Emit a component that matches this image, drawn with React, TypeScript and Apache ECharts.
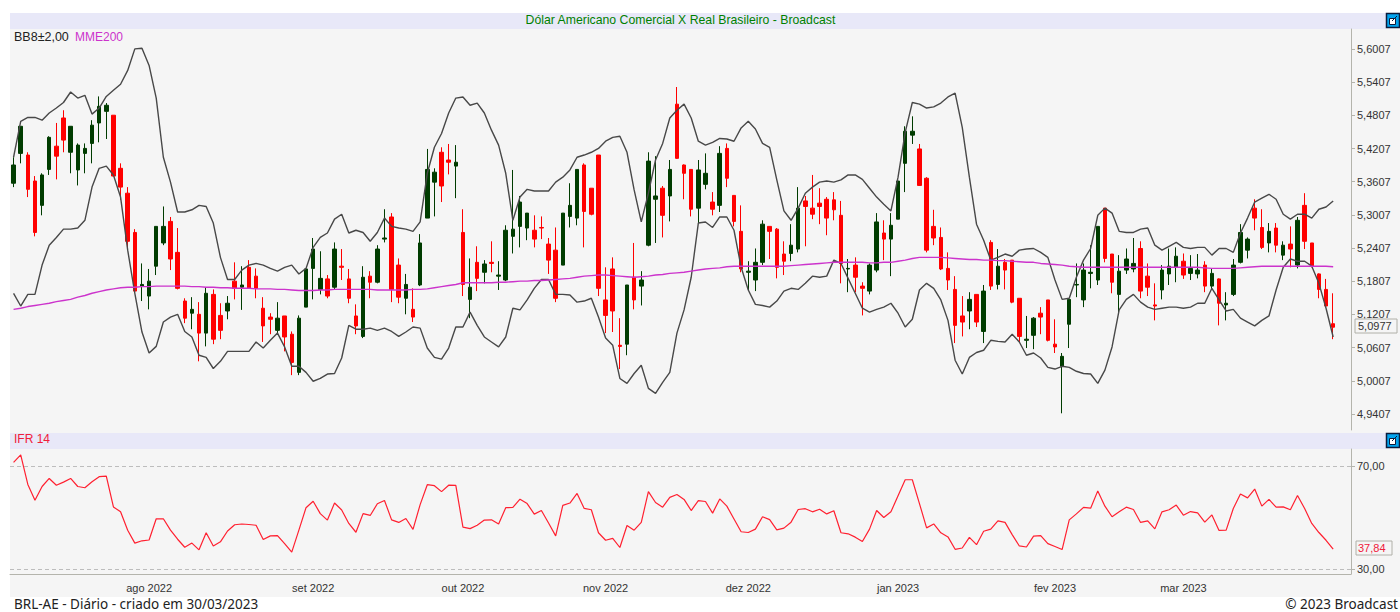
import React, { useEffect, useRef } from "react";
import * as echarts from "echarts";

const opens = [
  5.358,5.412,5.409,5.362,5.318,5.383,5.425,5.476,5.414,5.382,
  5.412,5.430,5.467,5.488,5.481,5.385,5.340,5.269,5.172,5.154,
  5.208,5.250,5.289,5.233,5.145,5.123,5.121,5.087,5.157,5.119,
  5.127,5.181,5.170,5.206,5.190,5.132,5.116,5.092,5.118,5.085,
  5.016,5.134,5.204,5.166,5.185,5.170,5.208,5.185,5.118,5.081,
  5.190,5.179,5.257,5.297,5.210,5.150,5.130,5.174,5.295,5.360,
  5.414,5.400,5.389,5.269,5.148,5.215,5.197,5.215,5.190,5.183,
  5.262,5.280,5.277,5.273,5.278,5.248,5.237,5.210,5.298,5.295,
  5.391,5.349,5.409,5.147,5.203,5.065,5.067,5.188,5.172,5.246,
  5.329,5.349,5.335,5.501,5.391,5.383,5.313,5.356,5.324,5.318,
  5.421,5.336,5.271,5.197,5.183,5.215,5.280,5.275,5.230,5.231,
  5.239,5.326,5.313,5.322,5.329,5.328,5.300,5.203,5.210,5.172,
  5.163,5.201,5.268,5.257,5.293,5.394,5.445,5.420,5.367,5.280,
  5.260,5.204,5.166,5.118,5.127,5.157,5.090,5.251,5.175,5.215,
  5.219,5.150,5.074,5.083,5.123,5.147,5.067,5.027,5.103,5.174,
  5.147,5.195,5.183,5.313,5.230,5.157,5.201,5.203,5.240,5.190,
  5.138,5.165,5.194,5.206,5.217,5.195,5.194,5.210,5.172,5.185,
  5.138,5.157,5.215,5.237,5.313,5.278,5.250,5.277,5.228,5.248,
  5.210,5.318,5.250,5.194,5.166,5.104,
];
const closes = [
  5.391,5.461,5.347,5.269,5.373,5.441,5.407,5.436,5.461,5.427,
  5.421,5.463,5.497,5.499,5.371,5.351,5.253,5.163,5.175,5.181,
  5.280,5.280,5.221,5.168,5.114,5.130,5.087,5.159,5.076,5.092,
  5.141,5.168,5.174,5.168,5.168,5.100,5.112,5.114,5.080,5.034,
  5.114,5.203,5.239,5.186,5.154,5.239,5.206,5.150,5.100,5.188,
  5.179,5.239,5.259,5.166,5.152,5.175,5.116,5.250,5.383,5.378,
  5.353,5.396,5.396,5.175,5.170,5.186,5.212,5.213,5.192,5.273,
  5.275,5.324,5.304,5.257,5.277,5.219,5.150,5.304,5.318,5.383,
  5.307,5.302,5.168,5.119,5.127,5.063,5.174,5.147,5.183,5.398,
  5.335,5.300,5.383,5.403,5.376,5.311,5.382,5.376,5.311,5.412,
  5.367,5.289,5.203,5.199,5.215,5.284,5.271,5.206,5.217,5.246,
  5.313,5.316,5.302,5.316,5.295,5.310,5.213,5.204,5.188,5.168,
  5.210,5.288,5.257,5.282,5.362,5.452,5.452,5.354,5.237,5.259,
  5.203,5.183,5.101,5.107,5.148,5.107,5.163,5.172,5.208,5.201,
  5.143,5.081,5.076,5.114,5.116,5.074,5.062,5.045,5.148,5.175,
  5.201,5.197,5.280,5.222,5.179,5.199,5.221,5.213,5.163,5.170,
  5.136,5.201,5.208,5.226,5.192,5.204,5.201,5.172,5.195,5.141,
  5.141,5.210,5.269,5.257,5.295,5.242,5.271,5.246,5.246,5.239,
  5.291,5.253,5.208,5.166,5.136,5.0977,
];
const lows = [
  5.351,5.394,5.333,5.262,5.300,5.373,5.365,5.414,5.376,5.354,
  5.376,5.394,5.432,5.438,5.371,5.328,5.242,5.163,5.145,5.130,
  5.192,5.246,5.201,5.166,5.105,5.094,5.036,5.063,5.067,5.076,
  5.112,5.148,5.129,5.168,5.150,5.071,5.085,5.087,5.054,5.011,
  5.011,5.134,5.148,5.157,5.150,5.166,5.183,5.141,5.085,5.078,
  5.150,5.177,5.251,5.143,5.141,5.121,5.107,5.172,5.295,5.298,
  5.324,5.374,5.331,5.154,5.114,5.163,5.177,5.197,5.165,5.181,
  5.231,5.242,5.255,5.242,5.257,5.194,5.143,5.210,5.278,5.282,
  5.242,5.300,5.154,5.087,5.089,5.022,5.047,5.130,5.137,5.244,
  5.250,5.260,5.289,5.402,5.329,5.298,5.286,5.347,5.300,5.306,
  5.351,5.280,5.197,5.165,5.163,5.210,5.221,5.186,5.192,5.217,
  5.233,5.244,5.293,5.284,5.264,5.291,5.177,5.161,5.161,5.119,
  5.157,5.197,5.219,5.190,5.293,5.342,5.429,5.353,5.233,5.246,
  5.201,5.165,5.069,5.081,5.094,5.098,5.069,5.165,5.166,5.166,
  5.141,5.071,5.060,5.058,5.085,5.072,5.051,4.942,5.060,5.152,
  5.134,5.168,5.174,5.215,5.159,5.125,5.194,5.197,5.150,5.154,
  5.110,5.148,5.174,5.179,5.185,5.183,5.186,5.161,5.166,5.101,
  5.110,5.154,5.213,5.222,5.273,5.239,5.233,5.233,5.219,5.206,
  5.204,5.239,5.206,5.150,5.134,5.076,
];
const highs = [
  5.405,5.461,5.414,5.371,5.376,5.443,5.467,5.490,5.461,5.430,
  5.430,5.472,5.515,5.503,5.481,5.394,5.351,5.275,5.213,5.203,
  5.280,5.316,5.297,5.277,5.150,5.152,5.143,5.170,5.166,5.141,
  5.154,5.215,5.208,5.219,5.204,5.152,5.123,5.143,5.118,5.090,
  5.119,5.203,5.259,5.235,5.192,5.251,5.239,5.203,5.139,5.208,
  5.199,5.246,5.311,5.304,5.222,5.194,5.168,5.266,5.420,5.385,
  5.423,5.429,5.427,5.311,5.222,5.244,5.219,5.253,5.217,5.282,
  5.382,5.335,5.304,5.300,5.298,5.259,5.278,5.304,5.358,5.383,
  5.394,5.349,5.409,5.206,5.224,5.114,5.174,5.250,5.199,5.414,
  5.407,5.353,5.400,5.532,5.392,5.383,5.400,5.412,5.342,5.425,
  5.430,5.336,5.318,5.217,5.240,5.291,5.280,5.277,5.253,5.284,
  5.351,5.335,5.373,5.349,5.333,5.342,5.326,5.221,5.224,5.179,
  5.213,5.304,5.291,5.304,5.362,5.461,5.479,5.429,5.369,5.310,
  5.278,5.233,5.190,5.154,5.161,5.157,5.174,5.255,5.239,5.221,
  5.219,5.150,5.118,5.116,5.134,5.147,5.112,5.051,5.148,5.213,
  5.213,5.246,5.280,5.313,5.230,5.228,5.240,5.259,5.253,5.213,
  5.177,5.210,5.240,5.242,5.231,5.228,5.230,5.217,5.204,5.186,
  5.161,5.221,5.284,5.260,5.329,5.311,5.286,5.286,5.253,5.280,
  5.297,5.340,5.250,5.195,5.185,5.159,
];
const bbUpper = [
  5.405,5.470,5.477,5.477,5.472,5.485,5.494,5.504,5.523,5.512,
  5.517,5.483,5.494,5.515,5.526,5.537,5.562,5.601,5.602,5.571,
  5.512,5.405,5.360,5.306,5.306,5.310,5.318,5.316,5.286,5.224,
  5.184,5.184,5.201,5.210,5.213,5.210,5.204,5.199,5.206,5.210,
  5.194,5.204,5.242,5.260,5.268,5.293,5.302,5.268,5.273,5.269,
  5.253,5.269,5.295,5.280,5.277,5.275,5.271,5.288,5.376,5.423,
  5.448,5.485,5.512,5.514,5.499,5.503,5.485,5.454,5.427,5.376,
  5.291,5.333,5.347,5.344,5.344,5.344,5.360,5.369,5.382,5.405,
  5.409,5.414,5.421,5.434,5.441,5.443,5.414,5.346,5.288,5.340,
  5.400,5.430,5.476,5.490,5.501,5.476,5.434,5.427,5.432,5.439,
  5.438,5.434,5.458,5.470,5.456,5.430,5.423,5.364,5.308,5.291,
  5.313,5.340,5.351,5.360,5.362,5.360,5.364,5.373,5.373,5.365,
  5.349,5.333,5.320,5.308,5.369,5.450,5.504,5.501,5.494,5.496,
  5.503,5.514,5.521,5.459,5.369,5.284,5.255,5.219,5.224,5.230,
  5.226,5.237,5.239,5.240,5.233,5.224,5.183,5.148,5.150,5.188,
  5.219,5.240,5.300,5.313,5.304,5.271,5.269,5.269,5.275,5.277,
  5.246,5.237,5.244,5.251,5.242,5.240,5.242,5.242,5.228,5.240,
  5.240,5.233,5.268,5.295,5.324,5.331,5.338,5.329,5.302,5.293,
  5.302,5.302,5.295,5.311,5.315,5.326,
];
const bbLower = [
  5.159,5.136,5.157,5.157,5.210,5.246,5.260,5.275,5.275,5.277,
  5.291,5.351,5.385,5.389,5.373,5.333,5.237,5.159,5.089,5.051,
  5.063,5.107,5.116,5.121,5.090,5.080,5.047,5.043,5.023,5.036,
  5.054,5.054,5.054,5.054,5.071,5.060,5.074,5.087,5.062,5.027,
  5.027,5.016,5.000,5.005,5.013,5.014,5.042,5.101,5.094,5.094,
  5.096,5.092,5.096,5.090,5.081,5.089,5.098,5.096,5.060,5.043,
  5.040,5.060,5.098,5.098,5.125,5.101,5.080,5.071,5.062,5.080,
  5.132,5.129,5.147,5.168,5.184,5.184,5.157,5.157,5.156,5.143,
  5.145,5.150,5.116,5.078,5.065,5.005,4.996,5.014,5.029,4.987,
  4.978,4.998,5.016,5.087,5.129,5.188,5.286,5.288,5.278,5.297,
  5.297,5.273,5.206,5.165,5.139,5.137,5.134,5.145,5.163,5.168,
  5.166,5.177,5.190,5.188,5.190,5.219,5.213,5.186,5.159,5.132,
  5.125,5.130,5.134,5.141,5.123,5.098,5.112,5.165,5.177,5.168,
  5.147,5.110,5.038,5.013,5.043,5.052,5.056,5.074,5.072,5.071,
  5.085,5.071,5.047,5.051,5.042,5.025,5.022,5.027,5.025,5.018,
  5.014,5.013,4.996,5.020,5.062,5.129,5.148,5.157,5.143,5.134,
  5.130,5.132,5.134,5.134,5.132,5.134,5.141,5.141,5.168,5.147,
  5.127,5.130,5.114,5.107,5.100,5.110,5.118,5.165,5.206,5.221,
  5.217,5.217,5.208,5.177,5.132,5.080,
];
const mme200 = [
  5.130,5.132,5.135,5.137,5.139,5.141,5.144,5.146,5.148,5.152,
  5.155,5.159,5.162,5.165,5.167,5.169,5.170,5.170,5.171,5.171,
  5.172,5.172,5.172,5.172,5.172,5.171,5.171,5.170,5.170,5.169,
  5.169,5.168,5.168,5.168,5.167,5.167,5.167,5.166,5.166,5.165,
  5.164,5.164,5.164,5.165,5.165,5.166,5.166,5.166,5.166,5.166,
  5.166,5.165,5.165,5.165,5.165,5.165,5.166,5.166,5.167,5.169,
  5.171,5.173,5.175,5.178,5.178,5.178,5.178,5.178,5.179,5.179,
  5.180,5.181,5.181,5.182,5.182,5.183,5.184,5.185,5.186,5.188,
  5.190,5.191,5.192,5.192,5.191,5.190,5.189,5.188,5.189,5.190,
  5.192,5.193,5.195,5.196,5.197,5.199,5.201,5.203,5.204,5.205,
  5.207,5.208,5.208,5.208,5.208,5.208,5.208,5.208,5.208,5.209,
  5.210,5.211,5.212,5.213,5.214,5.215,5.215,5.215,5.215,5.215,
  5.214,5.214,5.215,5.215,5.217,5.219,5.222,5.224,5.224,5.224,
  5.224,5.223,5.222,5.221,5.220,5.220,5.219,5.219,5.218,5.218,
  5.217,5.216,5.215,5.215,5.213,5.212,5.211,5.210,5.208,5.207,
  5.206,5.206,5.206,5.206,5.206,5.206,5.206,5.206,5.206,5.206,
  5.206,5.206,5.206,5.206,5.206,5.206,5.206,5.205,5.204,5.204,
  5.204,5.204,5.205,5.206,5.207,5.208,5.208,5.208,5.208,5.208,
  5.208,5.208,5.208,5.208,5.208,5.207,
];
const ifr14 = [
  71.4,74.3,62.9,56.8,62.1,65.2,62.6,63.8,65.2,62.1,
  61.6,63.9,65.9,66.1,54.2,52.3,45.2,40.2,41.1,41.4,
  49.6,49.6,45.2,41.7,38.6,40.2,37.6,44.2,39.1,40.7,
  44.9,47.3,47.6,47.4,47.1,41.6,43.0,43.1,40.0,36.7,
  45.2,53.9,56.4,51.6,49.1,55.7,53.0,47.8,44.4,51.6,
  50.9,55.4,56.7,49.2,48.2,49.7,45.5,55.1,62.8,62.4,
  60.1,62.6,62.5,46.4,45.8,47.1,49.1,49.2,47.6,53.9,
  54.0,57.2,55.5,51.4,52.8,48.0,43.0,54.8,55.7,59.4,
  53.6,53.1,44.2,41.3,42.0,38.5,47.0,45.2,48.2,60.1,
  55.9,54.1,57.9,59.0,57.1,52.8,56.6,56.3,51.8,57.3,
  54.5,49.5,44.6,44.3,45.6,50.4,49.3,45.3,46.0,48.3,
  53.2,53.5,52.3,53.3,51.5,52.7,44.2,43.8,42.5,40.8,
  45.6,52.8,50.1,52.3,58.5,64.7,64.7,55.5,46.1,47.6,
  44.2,42.6,37.8,38.3,42.4,39.6,44.8,45.6,48.8,48.2,
  43.5,39.1,38.7,42.9,43.1,40.0,38.9,37.7,49.2,51.5,
  54.0,53.7,60.4,54.5,50.4,52.3,54.1,53.2,48.2,48.8,
  45.7,52.3,53.1,54.9,51.0,52.4,51.9,48.3,51.1,45.1,
  45.2,53.6,59.2,57.7,61.1,54.5,57.1,54.1,54.2,53.1,
  58.6,53.6,47.8,44.3,41.3,37.84,
];
const priceTicks = [5.6007,5.5407,5.4807,5.4207,5.3607,5.3007,5.2407,5.1807,5.1207,5.0607,5.0007,4.9407];
const ifrTicks = [30, 70];
const monthIndexes = [19, 42, 63, 83, 103, 124, 146, 164];
const monthLabels = ["ago 2022","set 2022","out 2022","nov 2022","dez 2022","jan 2023","fev 2023","mar 2023"];
const slotCount = 188;
const lastPriceLabel = "5,0977";
const lastIfrLabel = "37,84";

const FONT = "'Liberation Sans', Arial, sans-serif";
const FOOT = "'Noto Sans', sans-serif";
const categories = Array.from({ length: slotCount }, (_, i) => {
  const m = monthIndexes.indexOf(i);
  return m >= 0 ? monthLabels[m] : String(i);
});
const isMonth = (i: number) => monthIndexes.indexOf(i) >= 0;
const comma = (d: number) => (v: number) => v.toFixed(d).replace(".", ",");

const icon = (y: number) => [
  { type: "rect", z: 5, shape: { x: 1386.5, y: y + 0.5, width: 13, height: 14 }, style: { fill: "#00a4ef", stroke: "#0c1c3c", lineWidth: 1.5 } },
  { type: "rect", z: 6, shape: { x: 1389.5, y: y + 5.5, width: 6, height: 6 }, style: { fill: "#ffffff", stroke: "#0c1c3c", lineWidth: 1 } },
  { type: "line", z: 7, shape: { x1: 1392, y1: y + 8, x2: 1397, y2: y + 3 }, style: { stroke: "#0c1c3c", lineWidth: 1 } },
];

export default function App() {
  const ref = useRef<HTMLDivElement>(null);
  useEffect(() => {
    const chart = echarts.init(ref.current!, undefined, { renderer: "svg" });
    const candle = opens.map((o, i) => [o, closes[i], lows[i], highs[i]]);
    const axisColor = "#b4b4ac";
    chart.setOption({
      animation: false,
      backgroundColor: "#ffffff",
      textStyle: { fontFamily: FONT },
      grid: [
        { left: 10, top: 29, width: 1341, height: 401 },
        { left: 10, top: 449, width: 1341, height: 125 },
      ],
      xAxis: [
        { type: "category", gridIndex: 0, data: categories, axisLine: { show: false }, axisTick: { show: false }, axisLabel: { show: false }, splitLine: { show: false } },
        {
          type: "category", gridIndex: 1, data: categories,
          axisLine: { lineStyle: { color: axisColor, width: 1 } },
          axisTick: { alignWithLabel: true, interval: isMonth, length: 4, lineStyle: { color: axisColor } },
          axisLabel: { interval: isMonth, color: "#333333", fontSize: 11, fontFamily: FONT, margin: 8, hideOverlap: false },
          splitLine: { show: false },
        },
      ],
      yAxis: [
        {
          type: "value", gridIndex: 0, position: "right", min: 4.9118, max: 5.6369, scale: true,
          axisLine: { show: true, lineStyle: { color: axisColor } },
          axisTick: { show: true, inside: false, length: 4, customValues: priceTicks, lineStyle: { color: axisColor } },
          axisLabel: { customValues: priceTicks, formatter: comma(4), color: "#333333", fontSize: 11, fontFamily: FONT, margin: 6 },
          splitLine: { show: false },
        },
        {
          type: "value", gridIndex: 1, position: "right", min: 28.25, max: 76.6, scale: true,
          axisLine: { show: true, lineStyle: { color: axisColor } },
          axisTick: { show: true, length: 4, customValues: ifrTicks, lineStyle: { color: axisColor } },
          axisLabel: { customValues: ifrTicks, formatter: comma(2), color: "#333333", fontSize: 11, fontFamily: FONT, margin: 6 },
          splitLine: { show: false },
        },
      ],
      series: [
        {
          type: "candlestick", xAxisIndex: 0, yAxisIndex: 0, data: candle, barWidth: 4, z: 3,
          itemStyle: { color: "#003c00", color0: "#ff0000", borderColor: "#003c00", borderColor0: "#ff0000", borderWidth: 1 },
        },
        { type: "line", xAxisIndex: 0, yAxisIndex: 0, data: bbUpper, showSymbol: false, z: 4, lineStyle: { color: "#484848", width: 1.4 } },
        { type: "line", xAxisIndex: 0, yAxisIndex: 0, data: bbLower, showSymbol: false, z: 4, lineStyle: { color: "#484848", width: 1.4 } },
        { type: "line", xAxisIndex: 0, yAxisIndex: 0, data: mme200, showSymbol: false, z: 4, lineStyle: { color: "#cc33cc", width: 1.4 } },
        {
          type: "line", xAxisIndex: 1, yAxisIndex: 1, data: ifr14, showSymbol: false, z: 4, lineStyle: { color: "#ff2030", width: 1.2 },
          markLine: {
            silent: true, symbol: "none", label: { show: false }, animation: false,
            lineStyle: { color: "#bdbdbd", type: [4, 3], width: 1 },
            data: ifrTicks.map((v) => ({ yAxis: v })),
          },
        },
      ],
      graphic: [
        { type: "rect", z: -10, shape: { x: 10, y: 13, width: 1390, height: 584 }, style: { fill: "#f5f5f5" } },
        { type: "rect", z: -9, shape: { x: 10, y: 13, width: 1376, height: 16 }, style: { fill: "#e8e8f8" } },
        { type: "rect", z: -9, shape: { x: 10, y: 433, width: 1376, height: 16 }, style: { fill: "#e8e8f8" } },
        ...icon(13),
        ...icon(433),
        { type: "text", z: 6, x: 680.5, y: 20, style: { text: "Dólar Americano Comercial X Real Brasileiro - Broadcast", fill: "#008000", fontSize: 12.25, fontFamily: FONT, align: "center", verticalAlign: "middle" } },
        { type: "text", z: 6, x: 14, y: 37, style: { text: "BB8±2,00", fill: "#222222", fontSize: 12.5, fontFamily: FONT, verticalAlign: "middle" } },
        { type: "text", z: 6, x: 75, y: 37, style: { text: "MME200", fill: "#cc33cc", fontSize: 12, fontFamily: FONT, verticalAlign: "middle" } },
        { type: "text", z: 6, x: 14, y: 439, style: { text: "IFR 14", fill: "#f0203a", fontSize: 12, fontFamily: FONT, verticalAlign: "middle" } },
        { type: "rect", z: 6, shape: { x: 1355, y: 319, width: 42, height: 14 }, style: { fill: "#f5f5f5", stroke: "#b0b0a8", lineWidth: 1 } },
        { type: "text", z: 7, x: 1358, y: 326, style: { text: lastPriceLabel, fill: "#333333", fontSize: 11, fontFamily: FONT, verticalAlign: "middle" } },
        { type: "rect", z: 6, shape: { x: 1356, y: 541, width: 36, height: 14 }, style: { fill: "#f5f5f5", stroke: "#b0b0a8", lineWidth: 1 } },
        { type: "text", z: 7, x: 1358, y: 548, style: { text: lastIfrLabel, fill: "#f0203a", fontSize: 11, fontFamily: FONT, verticalAlign: "middle" } },
        { type: "text", z: 6, x: 14, y: 604, style: { text: "BRL-AE - Diário - criado em 30/03/2023", fill: "#222222", fontSize: 13.5, fontFamily: FOOT, verticalAlign: "middle" } },
        { type: "text", z: 6, x: 1398, y: 604, style: { text: "© 2023 Broadcast", fill: "#222222", fontSize: 13.5, fontFamily: FOOT, align: "right", verticalAlign: "middle" } },
      ],
    });
    return () => chart.dispose();
  }, []);
  return <div ref={ref} style={{ position: "fixed", left: 0, top: 0, width: 1400, height: 612 }} />;
}
